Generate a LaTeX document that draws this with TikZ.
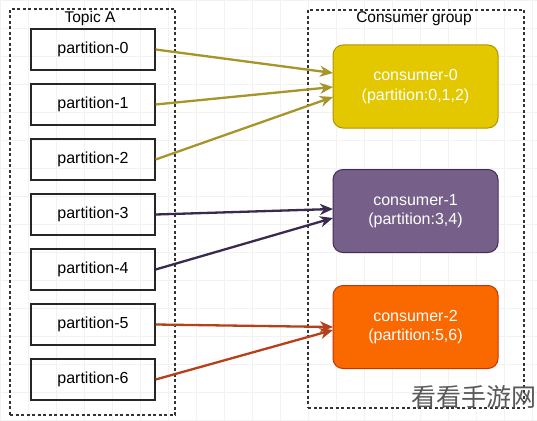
\documentclass[tikz,border=0pt]{standalone}
\usepackage{fontspec}
\setmainfont{Liberation Sans}
\newfontfamily\cjk{Noto Sans CJK SC}
\usetikzlibrary{arrows.meta}
\definecolor{yfill}{HTML}{E3C800}
\definecolor{yline}{HTML}{B09500}
\definecolor{yarrow}{HTML}{A8952A}
\definecolor{pfill}{HTML}{76608A}
\definecolor{pline}{HTML}{432D57}
\definecolor{parrow}{HTML}{3A2A4E}
\definecolor{ofill}{HTML}{FA6800}
\definecolor{oline}{HTML}{C73500}
\definecolor{oarrow}{HTML}{B5401A}
\tikzset{
  grp/.style={draw=black!80, dash pattern=on 3pt off 2.5pt, line width=1.1pt},
  part/.style={draw=black!85, line width=1.2pt, minimum width=124pt, minimum height=41pt, font=\fontsize{16}{18}\selectfont, inner sep=0pt},
  cons/.style={rounded corners=10pt, line width=1pt, minimum width=165pt, minimum height=83pt, align=center, text=white, font=\fontsize{16}{19.5}\selectfont, inner sep=0pt},
  lbl/.style={font=\fontsize{15.5}{18}\selectfont, inner sep=0pt},
  conn/.style={line width=2.3pt, -{Stealth[length=13pt, width=11pt, inset=4pt]}},
}
\begin{document}
\begin{tikzpicture}[x=1pt, y=-1pt]
\useasboundingbox (0,0) rectangle (537,420);
\fill[white] (0,0) rectangle (537,420);
\draw[black!5, line width=0.6pt, step=28pt] (0,0) grid (537,420);
% group boxes
\node[grp, minimum width=165pt, minimum height=406pt, inner sep=0pt] (topic) at (92.5,212) {};
\node[grp, minimum width=216pt, minimum height=398pt, inner sep=0pt] (group) at (416,209) {};
\node[lbl] (topicl) at (90,18.5) {Topic A};
\node[lbl] (groupl) at (414,18.5) {Consumer group};
% partitions
\node[part] (p0) at (93,49.5) {partition-0};
\node[part] (p1) at (93,104.5) {partition-1};
\node[part] (p2) at (93,159.5) {partition-2};
\node[part] (p3) at (93,214.5) {partition-3};
\node[part] (p4) at (93,269.5) {partition-4};
\node[part] (p5) at (93,324.5) {partition-5};
\node[part] (p6) at (93,379.5) {partition-6};
% consumers
\node[cons, fill=yfill, draw=yline] (c0) at (415.5,86.5) {consumer-0\\(partition:0,1,2)};
\node[cons, fill=pfill, draw=pline] (c1) at (415.5,211) {consumer-1\\(partition:3,4)};
\node[cons, fill=ofill, draw=oline] (c2) at (415.5,327) {consumer-2\\(partition:5,6)};
% arrow targets
\coordinate (t0) at (333,73);
\coordinate (t1) at (333,87);
\coordinate (t2) at (333,97);
\coordinate (t3) at (333,209);
\coordinate (t4) at (333,218);
\coordinate (t5) at (333,327);
\coordinate (t6) at (333,330);
\draw[conn, yarrow] (p0.east) -- (t0);
\draw[conn, yarrow] (p1.east) -- (t1);
\draw[conn, yarrow] (p2.east) -- (t2);
\draw[conn, parrow] (p3.east) -- (t3);
\draw[conn, parrow] (p4.east) -- (t4);
\draw[conn, oarrow] (p5.east) -- (t5);
\draw[conn, oarrow] (p6.east) -- (t6);
% watermark
\node[font=\cjk\fontsize{25}{28}\selectfont, text=black!65, inner sep=0pt] (wm) at (474,397) {看看手游网};
\end{tikzpicture}
\end{document}
